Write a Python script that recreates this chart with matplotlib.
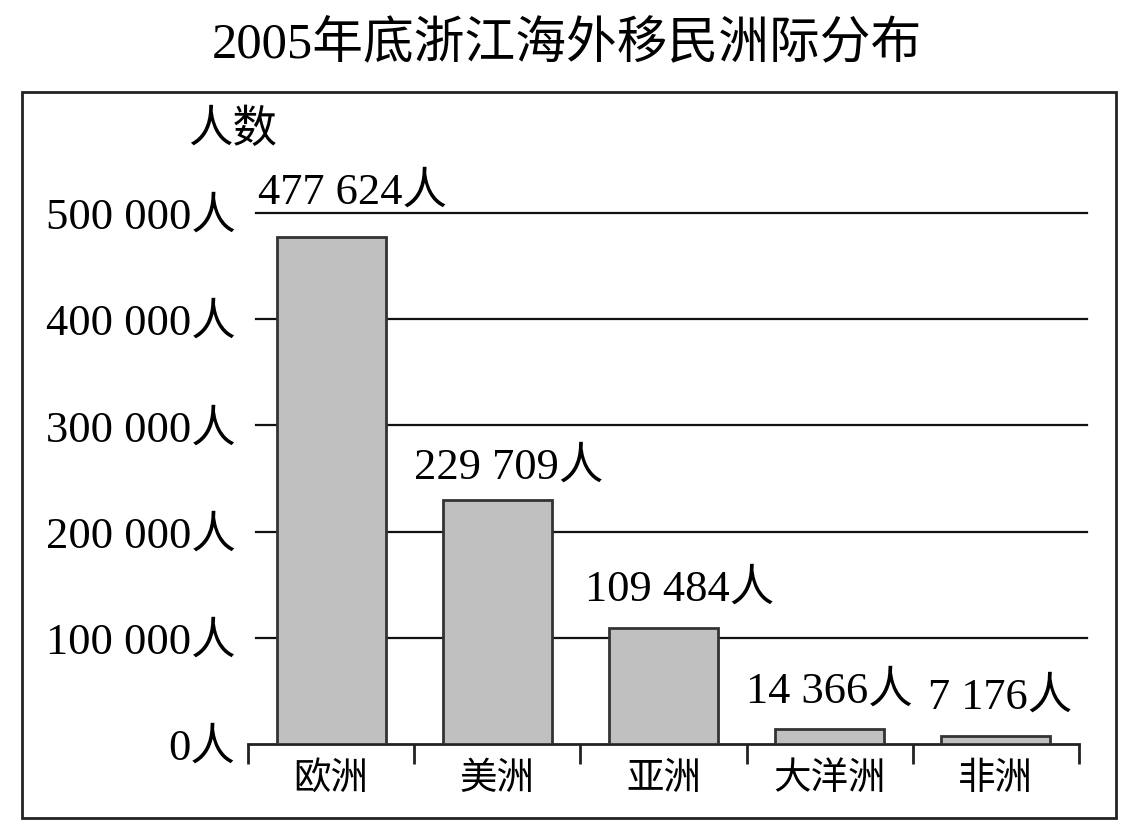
import matplotlib
matplotlib.use('Agg')
import matplotlib.pyplot as plt
from matplotlib.patches import Rectangle

plt.rcParams['font.family'] = ['Liberation Serif', 'Noto Sans CJK SC', 'DejaVu Sans']

title = '2005年底浙江海外移民洲际分布'
continents = ['欧洲', '美洲', '亚洲', '大洋洲', '非洲']
migrants = [477624, 229709, 109484, 14366, 7176]
yticks = [0, 100000, 200000, 300000, 400000, 500000]

# label offsets in pixels (dx, dy) relative to bar top centre
label_offsets = [(21, 44), (11, 33), (16, 38), (0, 37), (4, 39)]


def fmt(v):
    return f'{v:,}'.replace(',', ' ') + '人'


W, H = 1133, 830
fig = plt.figure(figsize=(W / 100, H / 100), dpi=100)

# outer frame
fig.patches.append(Rectangle((22 / W, 1 - 818 / H), (1116 - 22) / W, (818 - 92) / H,
                             transform=fig.transFigure, fill=False, lw=2, ec='#222222'))

ax = fig.add_axes([248 / W, 1 - 744 / H, (1079 - 248) / W, (744 - 213) / H])
ax.set_xlim(-0.5, len(continents) - 0.5)
ax.set_ylim(0, 500000)

xs = range(len(continents))
ax.bar(xs, migrants, width=0.656, color='#c0c0c0', edgecolor='#333333', lw=2, zorder=3)

# horizontal lines
for t in yticks[1:]:
    ax.plot([8 / 831, 839 / 831], [t, t], transform=ax.get_yaxis_transform(),
            color='#111111', lw=1.6, clip_on=False, zorder=2)

for s in ['top', 'right', 'left']:
    ax.spines[s].set_visible(False)
ax.spines['bottom'].set_linewidth(2)
ax.spines['bottom'].set_color('#222222')

ax.set_yticks(yticks)
ax.set_yticklabels([fmt(t) for t in yticks], fontsize=32)
ax.tick_params(axis='y', length=0, pad=9)

ax.set_xticks(list(xs))
ax.set_xticklabels(continents, fontsize=27)
ax.set_xticks([i - 0.5 for i in range(len(continents) + 1)], minor=True)
ax.tick_params(axis='x', which='major', length=0, pad=13)
ax.tick_params(axis='x', which='minor', length=14.4, width=2, direction='out', color='#222222')

for i, v in enumerate(migrants):
    dx, dy = label_offsets[i]
    ax.annotate(fmt(v), xy=(i, v), xytext=(dx * 0.72, dy * 0.72), textcoords='offset points',
                ha='center', va='center', fontsize=32, annotation_clip=False, zorder=4)

fig.text(233 / W, 1 - 130 / H, '人数', fontsize=32, ha='center', va='center')
fig.text(567 / W, 1 - 45 / H, title, fontsize=36.5, ha='center', va='center')

fig.savefig('out.png', dpi=100)
